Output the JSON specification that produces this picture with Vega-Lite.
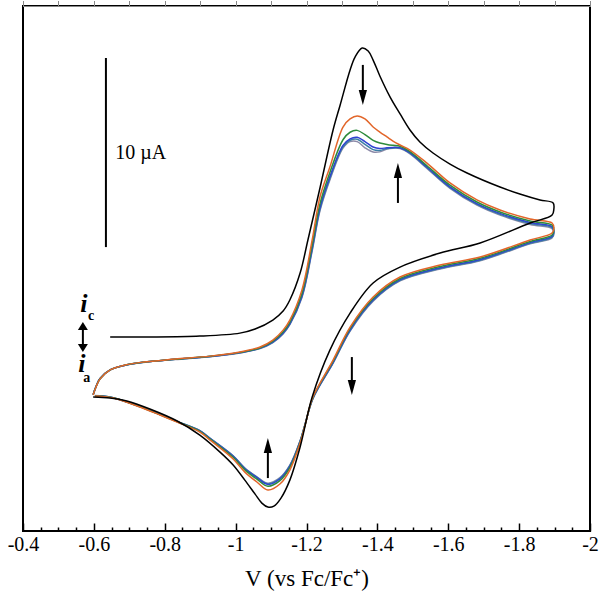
{
"$schema": "https://vega.github.io/schema/vega-lite/v6.json",
"width": 567, "height": 525,
"autosize": {"type": "none"},
"padding": {"left": 23, "top": 6, "right": 10, "bottom": 68},
"config": {"view": {"stroke": "black", "strokeWidth": 2}, "font": "Liberation Serif"},
"datasets": {
"colored": [
{"s":"gray","n":1,"v":-0.598,"i":-3.07},{"s":"gray","n":2,"v":-0.606,"i":-2.64},{"s":"gray","n":3,"v":-0.617,"i":-2.22},{"s":"gray","n":4,"v":-0.646,"i":-1.75},{"s":"gray","n":5,"v":-0.688,"i":-1.51},{"s":"gray","n":6,"v":-0.739,"i":-1.36},{"s":"gray","n":7,"v":-0.829,"i":-1.20},{"s":"gray","n":8,"v":-0.928,"i":-1.05},{"s":"gray","n":9,"v":-1.012,"i":-0.85},{"s":"gray","n":10,"v":-1.069,"i":-0.62},{"s":"gray","n":11,"v":-1.105,"i":-0.30},{"s":"gray","n":12,"v":-1.134,"i":0.17},{"s":"gray","n":13,"v":-1.153,"i":0.66},{"s":"gray","n":14,"v":-1.187,"i":2.10},{"s":"gray","n":15,"v":-1.216,"i":4.60},{"s":"gray","n":16,"v":-1.238,"i":6.75},{"s":"gray","n":17,"v":-1.266,"i":8.40},{"s":"gray","n":18,"v":-1.303,"i":10.10},{"s":"gray","n":19,"v":-1.323,"i":10.45},{"s":"gray","n":20,"v":-1.343,"i":10.45},{"s":"gray","n":21,"v":-1.365,"i":10.12},{"s":"gray","n":22,"v":-1.388,"i":9.89},{"s":"gray","n":23,"v":-1.407,"i":9.90},{"s":"gray","n":24,"v":-1.427,"i":10.05},{"s":"gray","n":25,"v":-1.444,"i":10.10},{"s":"gray","n":26,"v":-1.464,"i":10.08},{"s":"gray","n":27,"v":-1.492,"i":9.80},{"s":"gray","n":28,"v":-1.540,"i":9.02},{"s":"gray","n":29,"v":-1.605,"i":7.95},{"s":"gray","n":30,"v":-1.681,"i":7.05},{"s":"gray","n":31,"v":-1.746,"i":6.52},{"s":"gray","n":32,"v":-1.831,"i":6.02},{"s":"gray","n":33,"v":-1.893,"i":5.80},{"s":"gray","n":34,"v":-1.898,"i":5.55},{"s":"gray","n":35,"v":-1.893,"i":5.30},{"s":"gray","n":36,"v":-1.831,"i":4.98},{"s":"gray","n":37,"v":-1.690,"i":4.08},{"s":"gray","n":38,"v":-1.577,"i":3.64},{"s":"gray","n":39,"v":-1.464,"i":3.00},{"s":"gray","n":40,"v":-1.388,"i":1.92},{"s":"gray","n":41,"v":-1.323,"i":0.32},{"s":"gray","n":42,"v":-1.275,"i":-1.40},{"s":"gray","n":43,"v":-1.218,"i":-3.30},{"s":"gray","n":44,"v":-1.196,"i":-4.66},{"s":"gray","n":45,"v":-1.182,"i":-5.55},{"s":"gray","n":46,"v":-1.153,"i":-6.85},{"s":"gray","n":47,"v":-1.125,"i":-7.52},{"s":"gray","n":48,"v":-1.091,"i":-7.82},{"s":"gray","n":49,"v":-1.060,"i":-7.47},{"s":"gray","n":50,"v":-1.026,"i":-7.00},{"s":"gray","n":51,"v":-0.993,"i":-6.35},{"s":"gray","n":52,"v":-0.928,"i":-5.41},{"s":"gray","n":53,"v":-0.899,"i":-5.00},{"s":"gray","n":54,"v":-0.835,"i":-4.51},{"s":"gray","n":55,"v":-0.787,"i":-4.14},{"s":"gray","n":56,"v":-0.730,"i":-3.71},{"s":"gray","n":57,"v":-0.654,"i":-3.24},{"s":"gray","n":58,"v":-0.617,"i":-3.14},{"s":"gray","n":59,"v":-0.603,"i":-3.13},
{"s":"steel","n":1,"v":-0.598,"i":-3.08},{"s":"steel","n":2,"v":-0.606,"i":-2.65},{"s":"steel","n":3,"v":-0.617,"i":-2.23},{"s":"steel","n":4,"v":-0.646,"i":-1.76},{"s":"steel","n":5,"v":-0.688,"i":-1.51},{"s":"steel","n":6,"v":-0.739,"i":-1.35},{"s":"steel","n":7,"v":-0.829,"i":-1.19},{"s":"steel","n":8,"v":-0.928,"i":-1.04},{"s":"steel","n":9,"v":-1.012,"i":-0.84},{"s":"steel","n":10,"v":-1.069,"i":-0.60},{"s":"steel","n":11,"v":-1.105,"i":-0.28},{"s":"steel","n":12,"v":-1.134,"i":0.20},{"s":"steel","n":13,"v":-1.153,"i":0.69},{"s":"steel","n":14,"v":-1.187,"i":2.15},{"s":"steel","n":15,"v":-1.216,"i":4.68},{"s":"steel","n":16,"v":-1.238,"i":6.83},{"s":"steel","n":17,"v":-1.266,"i":8.48},{"s":"steel","n":18,"v":-1.303,"i":10.17},{"s":"steel","n":19,"v":-1.323,"i":10.52},{"s":"steel","n":20,"v":-1.343,"i":10.58},{"s":"steel","n":21,"v":-1.365,"i":10.30},{"s":"steel","n":22,"v":-1.388,"i":10.02},{"s":"steel","n":23,"v":-1.407,"i":9.98},{"s":"steel","n":24,"v":-1.427,"i":10.08},{"s":"steel","n":25,"v":-1.444,"i":10.11},{"s":"steel","n":26,"v":-1.464,"i":10.10},{"s":"steel","n":27,"v":-1.492,"i":9.83},{"s":"steel","n":28,"v":-1.540,"i":9.05},{"s":"steel","n":29,"v":-1.605,"i":7.99},{"s":"steel","n":30,"v":-1.681,"i":7.09},{"s":"steel","n":31,"v":-1.746,"i":6.56},{"s":"steel","n":32,"v":-1.831,"i":6.07},{"s":"steel","n":33,"v":-1.893,"i":5.85},{"s":"steel","n":34,"v":-1.898,"i":5.60},{"s":"steel","n":35,"v":-1.893,"i":5.34},{"s":"steel","n":36,"v":-1.831,"i":5.01},{"s":"steel","n":37,"v":-1.690,"i":4.11},{"s":"steel","n":38,"v":-1.577,"i":3.67},{"s":"steel","n":39,"v":-1.464,"i":3.03},{"s":"steel","n":40,"v":-1.388,"i":1.95},{"s":"steel","n":41,"v":-1.323,"i":0.35},{"s":"steel","n":42,"v":-1.275,"i":-1.38},{"s":"steel","n":43,"v":-1.218,"i":-3.29},{"s":"steel","n":44,"v":-1.196,"i":-4.67},{"s":"steel","n":45,"v":-1.182,"i":-5.56},{"s":"steel","n":46,"v":-1.153,"i":-6.88},{"s":"steel","n":47,"v":-1.125,"i":-7.55},{"s":"steel","n":48,"v":-1.091,"i":-7.84},{"s":"steel","n":49,"v":-1.060,"i":-7.49},{"s":"steel","n":50,"v":-1.026,"i":-7.02},{"s":"steel","n":51,"v":-0.993,"i":-6.36},{"s":"steel","n":52,"v":-0.928,"i":-5.42},{"s":"steel","n":53,"v":-0.899,"i":-5.01},{"s":"steel","n":54,"v":-0.835,"i":-4.51},{"s":"steel","n":55,"v":-0.787,"i":-4.14},{"s":"steel","n":56,"v":-0.730,"i":-3.72},{"s":"steel","n":57,"v":-0.654,"i":-3.24},{"s":"steel","n":58,"v":-0.617,"i":-3.14},{"s":"steel","n":59,"v":-0.603,"i":-3.14},
{"s":"blue","n":1,"v":-0.598,"i":-3.08},{"s":"blue","n":2,"v":-0.606,"i":-2.65},{"s":"blue","n":3,"v":-0.617,"i":-2.23},{"s":"blue","n":4,"v":-0.646,"i":-1.76},{"s":"blue","n":5,"v":-0.688,"i":-1.51},{"s":"blue","n":6,"v":-0.739,"i":-1.35},{"s":"blue","n":7,"v":-0.829,"i":-1.19},{"s":"blue","n":8,"v":-0.928,"i":-1.04},{"s":"blue","n":9,"v":-1.012,"i":-0.83},{"s":"blue","n":10,"v":-1.069,"i":-0.59},{"s":"blue","n":11,"v":-1.105,"i":-0.26},{"s":"blue","n":12,"v":-1.134,"i":0.22},{"s":"blue","n":13,"v":-1.153,"i":0.72},{"s":"blue","n":14,"v":-1.187,"i":2.20},{"s":"blue","n":15,"v":-1.216,"i":4.76},{"s":"blue","n":16,"v":-1.238,"i":6.92},{"s":"blue","n":17,"v":-1.266,"i":8.58},{"s":"blue","n":18,"v":-1.303,"i":10.25},{"s":"blue","n":19,"v":-1.323,"i":10.60},{"s":"blue","n":20,"v":-1.343,"i":10.68},{"s":"blue","n":21,"v":-1.365,"i":10.45},{"s":"blue","n":22,"v":-1.388,"i":10.16},{"s":"blue","n":23,"v":-1.407,"i":10.08},{"s":"blue","n":24,"v":-1.427,"i":10.12},{"s":"blue","n":25,"v":-1.444,"i":10.14},{"s":"blue","n":26,"v":-1.464,"i":10.12},{"s":"blue","n":27,"v":-1.492,"i":9.86},{"s":"blue","n":28,"v":-1.540,"i":9.09},{"s":"blue","n":29,"v":-1.605,"i":8.03},{"s":"blue","n":30,"v":-1.681,"i":7.13},{"s":"blue","n":31,"v":-1.746,"i":6.61},{"s":"blue","n":32,"v":-1.831,"i":6.13},{"s":"blue","n":33,"v":-1.893,"i":5.91},{"s":"blue","n":34,"v":-1.898,"i":5.65},{"s":"blue","n":35,"v":-1.893,"i":5.39},{"s":"blue","n":36,"v":-1.831,"i":5.05},{"s":"blue","n":37,"v":-1.690,"i":4.15},{"s":"blue","n":38,"v":-1.577,"i":3.71},{"s":"blue","n":39,"v":-1.464,"i":3.07},{"s":"blue","n":40,"v":-1.388,"i":1.99},{"s":"blue","n":41,"v":-1.323,"i":0.39},{"s":"blue","n":42,"v":-1.275,"i":-1.35},{"s":"blue","n":43,"v":-1.218,"i":-3.27},{"s":"blue","n":44,"v":-1.196,"i":-4.67},{"s":"blue","n":45,"v":-1.182,"i":-5.58},{"s":"blue","n":46,"v":-1.153,"i":-6.91},{"s":"blue","n":47,"v":-1.125,"i":-7.59},{"s":"blue","n":48,"v":-1.091,"i":-7.88},{"s":"blue","n":49,"v":-1.060,"i":-7.52},{"s":"blue","n":50,"v":-1.026,"i":-7.04},{"s":"blue","n":51,"v":-0.993,"i":-6.38},{"s":"blue","n":52,"v":-0.928,"i":-5.43},{"s":"blue","n":53,"v":-0.899,"i":-5.02},{"s":"blue","n":54,"v":-0.835,"i":-4.52},{"s":"blue","n":55,"v":-0.787,"i":-4.15},{"s":"blue","n":56,"v":-0.730,"i":-3.72},{"s":"blue","n":57,"v":-0.654,"i":-3.25},{"s":"blue","n":58,"v":-0.617,"i":-3.15},{"s":"blue","n":59,"v":-0.603,"i":-3.14},
{"s":"green","n":1,"v":-0.598,"i":-3.09},{"s":"green","n":2,"v":-0.606,"i":-2.66},{"s":"green","n":3,"v":-0.617,"i":-2.24},{"s":"green","n":4,"v":-0.646,"i":-1.76},{"s":"green","n":5,"v":-0.688,"i":-1.50},{"s":"green","n":6,"v":-0.739,"i":-1.35},{"s":"green","n":7,"v":-0.829,"i":-1.19},{"s":"green","n":8,"v":-0.928,"i":-1.03},{"s":"green","n":9,"v":-1.012,"i":-0.82},{"s":"green","n":10,"v":-1.069,"i":-0.57},{"s":"green","n":11,"v":-1.105,"i":-0.22},{"s":"green","n":12,"v":-1.134,"i":0.28},{"s":"green","n":13,"v":-1.153,"i":0.80},{"s":"green","n":14,"v":-1.187,"i":2.32},{"s":"green","n":15,"v":-1.216,"i":4.92},{"s":"green","n":16,"v":-1.238,"i":7.12},{"s":"green","n":17,"v":-1.266,"i":8.80},{"s":"green","n":18,"v":-1.303,"i":10.55},{"s":"green","n":19,"v":-1.323,"i":10.95},{"s":"green","n":20,"v":-1.343,"i":11.05},{"s":"green","n":21,"v":-1.365,"i":10.82},{"s":"green","n":22,"v":-1.388,"i":10.52},{"s":"green","n":23,"v":-1.407,"i":10.38},{"s":"green","n":24,"v":-1.427,"i":10.30},{"s":"green","n":25,"v":-1.444,"i":10.25},{"s":"green","n":26,"v":-1.464,"i":10.20},{"s":"green","n":27,"v":-1.492,"i":9.92},{"s":"green","n":28,"v":-1.540,"i":9.16},{"s":"green","n":29,"v":-1.605,"i":8.12},{"s":"green","n":30,"v":-1.681,"i":7.22},{"s":"green","n":31,"v":-1.746,"i":6.69},{"s":"green","n":32,"v":-1.831,"i":6.21},{"s":"green","n":33,"v":-1.893,"i":5.99},{"s":"green","n":34,"v":-1.898,"i":5.73},{"s":"green","n":35,"v":-1.893,"i":5.46},{"s":"green","n":36,"v":-1.831,"i":5.11},{"s":"green","n":37,"v":-1.690,"i":4.21},{"s":"green","n":38,"v":-1.577,"i":3.77},{"s":"green","n":39,"v":-1.464,"i":3.13},{"s":"green","n":40,"v":-1.388,"i":2.06},{"s":"green","n":41,"v":-1.323,"i":0.46},{"s":"green","n":42,"v":-1.275,"i":-1.29},{"s":"green","n":43,"v":-1.218,"i":-3.24},{"s":"green","n":44,"v":-1.196,"i":-4.69},{"s":"green","n":45,"v":-1.182,"i":-5.62},{"s":"green","n":46,"v":-1.153,"i":-6.98},{"s":"green","n":47,"v":-1.125,"i":-7.68},{"s":"green","n":48,"v":-1.091,"i":-7.98},{"s":"green","n":49,"v":-1.060,"i":-7.60},{"s":"green","n":50,"v":-1.026,"i":-7.10},{"s":"green","n":51,"v":-0.993,"i":-6.43},{"s":"green","n":52,"v":-0.928,"i":-5.46},{"s":"green","n":53,"v":-0.899,"i":-5.04},{"s":"green","n":54,"v":-0.835,"i":-4.53},{"s":"green","n":55,"v":-0.787,"i":-4.16},{"s":"green","n":56,"v":-0.730,"i":-3.73},{"s":"green","n":57,"v":-0.654,"i":-3.25},{"s":"green","n":58,"v":-0.617,"i":-3.15},{"s":"green","n":59,"v":-0.603,"i":-3.15},
{"s":"orange","n":1,"v":-0.598,"i":-3.10},{"s":"orange","n":2,"v":-0.606,"i":-2.67},{"s":"orange","n":3,"v":-0.617,"i":-2.25},{"s":"orange","n":4,"v":-0.646,"i":-1.76},{"s":"orange","n":5,"v":-0.688,"i":-1.50},{"s":"orange","n":6,"v":-0.739,"i":-1.34},{"s":"orange","n":7,"v":-0.829,"i":-1.18},{"s":"orange","n":8,"v":-0.928,"i":-1.02},{"s":"orange","n":9,"v":-1.012,"i":-0.80},{"s":"orange","n":10,"v":-1.069,"i":-0.53},{"s":"orange","n":11,"v":-1.105,"i":-0.16},{"s":"orange","n":12,"v":-1.134,"i":0.37},{"s":"orange","n":13,"v":-1.153,"i":0.91},{"s":"orange","n":14,"v":-1.187,"i":2.51},{"s":"orange","n":15,"v":-1.216,"i":5.19},{"s":"orange","n":16,"v":-1.238,"i":7.49},{"s":"orange","n":17,"v":-1.266,"i":9.09},{"s":"orange","n":18,"v":-1.303,"i":11.23},{"s":"orange","n":19,"v":-1.323,"i":11.66},{"s":"orange","n":20,"v":-1.343,"i":11.82},{"s":"orange","n":21,"v":-1.365,"i":11.66},{"s":"orange","n":22,"v":-1.388,"i":11.23},{"s":"orange","n":23,"v":-1.407,"i":10.96},{"s":"orange","n":24,"v":-1.427,"i":10.70},{"s":"orange","n":25,"v":-1.444,"i":10.48},{"s":"orange","n":26,"v":-1.464,"i":10.27},{"s":"orange","n":27,"v":-1.492,"i":10.00},{"s":"orange","n":28,"v":-1.540,"i":9.30},{"s":"orange","n":29,"v":-1.605,"i":8.24},{"s":"orange","n":30,"v":-1.681,"i":7.33},{"s":"orange","n":31,"v":-1.746,"i":6.79},{"s":"orange","n":32,"v":-1.831,"i":6.31},{"s":"orange","n":33,"v":-1.893,"i":6.10},{"s":"orange","n":34,"v":-1.898,"i":5.83},{"s":"orange","n":35,"v":-1.893,"i":5.56},{"s":"orange","n":36,"v":-1.831,"i":5.19},{"s":"orange","n":37,"v":-1.690,"i":4.28},{"s":"orange","n":38,"v":-1.577,"i":3.85},{"s":"orange","n":39,"v":-1.464,"i":3.21},{"s":"orange","n":40,"v":-1.388,"i":2.14},{"s":"orange","n":41,"v":-1.323,"i":0.53},{"s":"orange","n":42,"v":-1.275,"i":-1.23},{"s":"orange","n":43,"v":-1.218,"i":-3.21},{"s":"orange","n":44,"v":-1.196,"i":-4.71},{"s":"orange","n":45,"v":-1.182,"i":-5.67},{"s":"orange","n":46,"v":-1.153,"i":-7.11},{"s":"orange","n":47,"v":-1.125,"i":-7.86},{"s":"orange","n":48,"v":-1.091,"i":-8.18},{"s":"orange","n":49,"v":-1.060,"i":-7.75},{"s":"orange","n":50,"v":-1.026,"i":-7.22},{"s":"orange","n":51,"v":-0.993,"i":-6.52},{"s":"orange","n":52,"v":-0.928,"i":-5.51},{"s":"orange","n":53,"v":-0.899,"i":-5.08},{"s":"orange","n":54,"v":-0.835,"i":-4.55},{"s":"orange","n":55,"v":-0.787,"i":-4.17},{"s":"orange","n":56,"v":-0.730,"i":-3.74},{"s":"orange","n":57,"v":-0.654,"i":-3.26},{"s":"orange","n":58,"v":-0.617,"i":-3.16},{"s":"orange","n":59,"v":-0.603,"i":-3.16}
],
"black": [
{"n":1,"v":-0.646,"i":0.00},{"n":2,"v":-0.758,"i":0.00},{"n":3,"v":-0.899,"i":0.05},{"n":4,"v":-1.012,"i":0.21},{"n":5,"v":-1.055,"i":0.43},{"n":6,"v":-1.105,"i":0.91},{"n":7,"v":-1.134,"i":1.39},{"n":8,"v":-1.153,"i":1.98},{"n":9,"v":-1.182,"i":3.42},{"n":10,"v":-1.204,"i":5.19},{"n":11,"v":-1.238,"i":7.97},{"n":12,"v":-1.275,"i":11.07},{"n":13,"v":-1.295,"i":12.41},{"n":14,"v":-1.323,"i":14.28},{"n":15,"v":-1.337,"i":14.97},{"n":16,"v":-1.357,"i":15.45},{"n":17,"v":-1.374,"i":15.29},{"n":18,"v":-1.388,"i":14.81},{"n":19,"v":-1.407,"i":13.96},{"n":20,"v":-1.436,"i":12.83},{"n":21,"v":-1.464,"i":11.93},{"n":22,"v":-1.492,"i":11.07},{"n":23,"v":-1.520,"i":10.43},{"n":24,"v":-1.557,"i":9.84},{"n":25,"v":-1.605,"i":9.25},{"n":26,"v":-1.653,"i":8.77},{"n":27,"v":-1.746,"i":8.02},{"n":28,"v":-1.802,"i":7.65},{"n":29,"v":-1.859,"i":7.33},{"n":30,"v":-1.896,"i":7.17},{"n":31,"v":-1.898,"i":6.84},{"n":32,"v":-1.893,"i":6.52},{"n":33,"v":-1.831,"i":6.10},{"n":34,"v":-1.690,"i":5.03},{"n":35,"v":-1.577,"i":4.49},{"n":36,"v":-1.464,"i":3.74},{"n":37,"v":-1.388,"i":2.89},{"n":38,"v":-1.323,"i":1.28},{"n":39,"v":-1.266,"i":-0.70},{"n":40,"v":-1.216,"i":-3.21},{"n":41,"v":-1.182,"i":-5.88},{"n":42,"v":-1.153,"i":-7.65},{"n":43,"v":-1.128,"i":-8.61},{"n":44,"v":-1.108,"i":-9.04},{"n":45,"v":-1.091,"i":-9.09},{"n":46,"v":-1.074,"i":-8.88},{"n":47,"v":-1.055,"i":-8.40},{"n":48,"v":-1.026,"i":-7.65},{"n":49,"v":-0.993,"i":-6.84},{"n":50,"v":-0.956,"i":-6.15},{"n":51,"v":-0.899,"i":-5.24},{"n":52,"v":-0.835,"i":-4.49},{"n":53,"v":-0.758,"i":-3.85},{"n":54,"v":-0.693,"i":-3.42},{"n":55,"v":-0.646,"i":-3.26},{"n":56,"v":-0.598,"i":-3.21}
]
},
"resolve": {"axis": {"x": "independent"}},
"layer": [
{
"data": {"name": "colored"},
"mark": {"type": "line", "strokeWidth": 1.5, "interpolate": "catmull-rom"},
"encoding": {
"x": {"field": "v", "type": "quantitative", "scale": {"domain": [-2, -0.4], "reverse": true, "nice": false, "zero": false},
"axis": {"orient": "bottom", "values": [-0.4,-0.6,-0.8,-1,-1.2,-1.4,-1.6,-1.8,-2], "labelExpr": "'' + datum.value", "tickSize": -8, "tickColor": "black", "tickWidth": 1.5, "domain": false, "grid": false, "labelFont": "Liberation Serif", "labelFontSize": 20, "labelColor": "black", "labelPadding": 11, "labelFlush": false, "labelOverlap": false, "title": "V (vs Fc/Fc⁺)", "titleFont": "Liberation Serif", "titleFontSize": 23, "titleFontWeight": "normal", "titleColor": "black", "titlePadding": 13}},
"y": {"field": "i", "type": "quantitative", "scale": {"domain": [-10.37, 17.70], "nice": false, "zero": false}, "axis": null},
"color": {"field": "s", "type": "nominal", "legend": null, "sort": null, "scale": {"domain": ["gray","steel","blue","green","orange"], "range": ["#8c8aa8","#3c7fa6","#2f43d0","#2e8b3c","#e2662a"]}},
"order": {"field": "n", "type": "quantitative"}
}
},
{
"data": {"name": "black"},
"mark": {"type": "line", "strokeWidth": 1.5, "color": "black", "interpolate": "catmull-rom"},
"encoding": {
"x": {"field": "v", "type": "quantitative", "axis": {"orient": "bottom", "values": [-0.45,-0.5,-0.55,-0.65,-0.7,-0.75,-0.85,-0.9,-0.95,-1.05,-1.1,-1.15,-1.25,-1.3,-1.35,-1.45,-1.5,-1.55,-1.65,-1.7,-1.75,-1.85,-1.9,-1.95], "labels": false, "tickSize": -4, "tickColor": "black", "tickWidth": 1.5, "domain": false, "grid": false, "title": null}},
"y": {"field": "i", "type": "quantitative"},
"order": {"field": "n", "type": "quantitative"}
}
},
{
"data": {"values": [{"v": -0.634, "i": 4.81, "i2": 14.92}]},
"mark": {"type": "rule", "strokeWidth": 2, "color": "black"},
"encoding": {"x": {"field": "v", "type": "quantitative"}, "y": {"field": "i", "type": "quantitative"}, "y2": {"field": "i2"}}
},
{
"data": {"values": [{"v": -1.359, "a": 14.55, "b": 12.9}, {"v": -1.458, "a": 7.17, "b": 8.8}, {"v": -1.328, "a": -1.07, "b": -2.6}, {"v": -1.091, "a": -7.54, "b": -5.9}, {"v": -0.569, "a": 0.6, "b": -0.6}]},
"mark": {"type": "rule", "strokeWidth": 2, "color": "black"},
"encoding": {"x": {"field": "v", "type": "quantitative"}, "y": {"field": "a", "type": "quantitative"}, "y2": {"field": "b"}}
},
{
"data": {"values": [{"v": -1.359, "i": 12.81}, {"v": -1.328, "i": -2.70}]},
"mark": {"type": "point", "shape": "M-0.55,-1L0.55,-1L0,1Z", "size": 225, "filled": true, "color": "black", "opacity": 1, "strokeWidth": 0},
"encoding": {"x": {"field": "v", "type": "quantitative"}, "y": {"field": "i", "type": "quantitative"}}
},
{
"data": {"values": [{"v": -1.458, "i": 8.90}, {"v": -1.091, "i": -5.80}]},
"mark": {"type": "point", "shape": "M-0.55,1L0.55,1L0,-1Z", "size": 225, "filled": true, "color": "black", "opacity": 1, "strokeWidth": 0},
"encoding": {"x": {"field": "v", "type": "quantitative"}, "y": {"field": "i", "type": "quantitative"}}
},
{
"data": {"values": [{"v": -0.569, "i": 0.59}]},
"mark": {"type": "point", "shape": "M-1,0.8L1,0.8L0,-0.8Z", "size": 100, "filled": true, "color": "black", "opacity": 1, "strokeWidth": 0},
"encoding": {"x": {"field": "v", "type": "quantitative"}, "y": {"field": "i", "type": "quantitative"}}
},
{
"data": {"values": [{"v": -0.569, "i": -0.59}]},
"mark": {"type": "point", "shape": "M-1,-0.8L1,-0.8L0,0.8Z", "size": 100, "filled": true, "color": "black", "opacity": 1, "strokeWidth": 0},
"encoding": {"x": {"field": "v", "type": "quantitative"}, "y": {"field": "i", "type": "quantitative"}}
},
{
"data": {"values": [{"v": -0.660, "i": 9.84, "t": "10 µA"}]},
"mark": {"type": "text", "align": "left", "baseline": "middle", "font": "Liberation Serif", "fontSize": 20, "color": "black"},
"encoding": {"x": {"field": "v", "type": "quantitative"}, "y": {"field": "i", "type": "quantitative"}, "text": {"field": "t"}}
},
{
"data": {"values": [{"v": -0.572, "i": 1.34, "t": "i"}, {"v": -0.566, "i": -1.87, "t": "i"}]},
"mark": {"type": "text", "align": "center", "baseline": "alphabetic", "font": "Liberation Serif", "fontSize": 26, "fontStyle": "italic", "fontWeight": "bold", "color": "black"},
"encoding": {"x": {"field": "v", "type": "quantitative"}, "y": {"field": "i", "type": "quantitative"}, "text": {"field": "t"}}
},
{
"data": {"values": [{"v": -0.592, "i": 0.91, "t": "c"}, {"v": -0.580, "i": -2.41, "t": "a"}]},
"mark": {"type": "text", "align": "center", "baseline": "alphabetic", "font": "Liberation Serif", "fontSize": 14, "fontWeight": "bold", "color": "black"},
"encoding": {"x": {"field": "v", "type": "quantitative"}, "y": {"field": "i", "type": "quantitative"}, "text": {"field": "t"}}
}
]
}
